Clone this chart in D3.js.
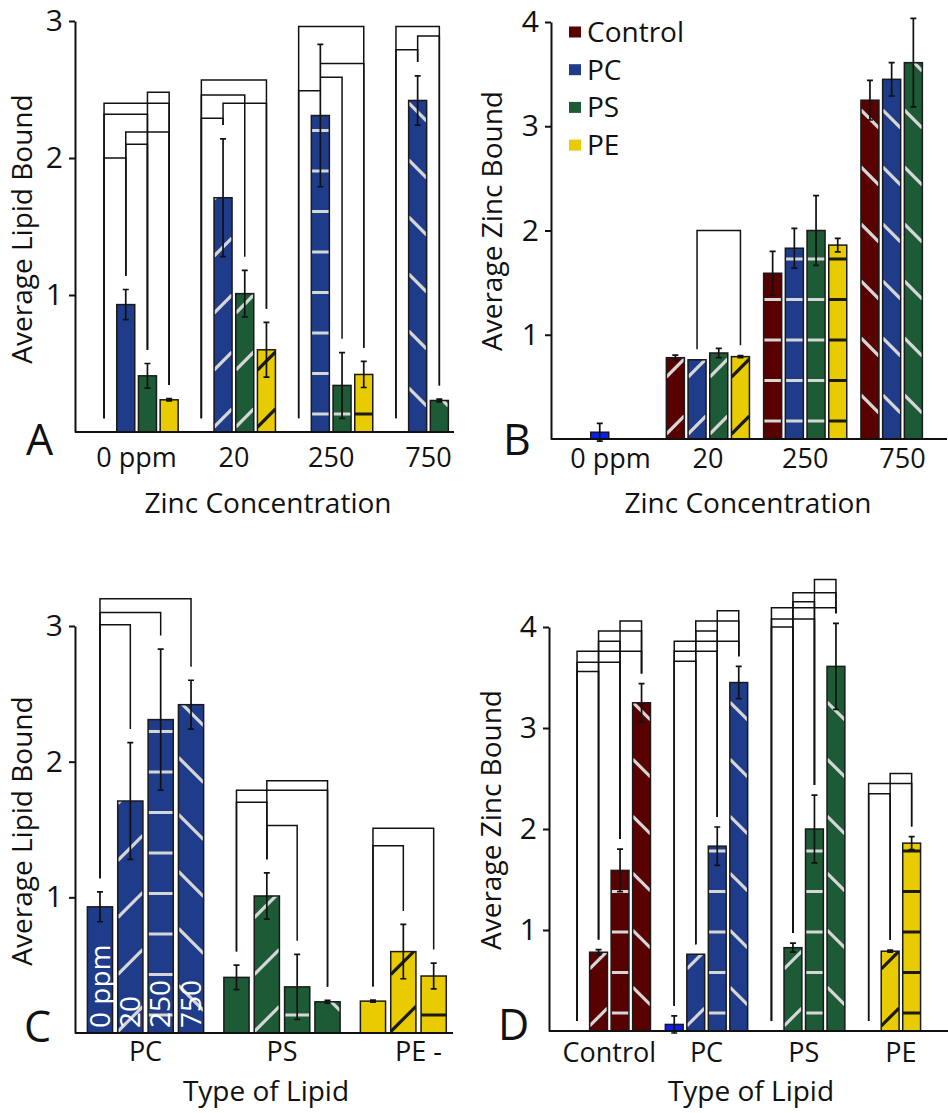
<html>
<head>
<meta charset="utf-8">
<script src="https://d3js.org/d3.v7.min.js"></script>
<style>
  body { margin: 0; background: #fff; }
  text { font-family: "Open Sans", sans-serif; fill: #111; }
</style>
</head>
<body>
<svg width="948" height="1113"></svg>
<script>
// ---- data ----
var zincLevels = ["0 ppm", "20", "250", "750"];
var lipidTypes = ["Control", "PC", "PS", "PE"];
var lipidColors = ["#590000", "#1e3c89", "#1d5b37", "#e8cb00"];
var hatchKinds = ["none", "rise", "flat", "fall"];   // one per zinc level
var lipidTickC = ["PC", "PS", "PE -"];

// average lipid bound (A, C), index = zinc level; null = not measured
var lipidControl = [0, 0, 0, 0];
var lipidControlErr = [0, 0, 0, 0];
var lipidPC = [0.93, 1.71, 2.31, 2.42];
var lipidPCErr = [0.11, 0.43, 0.52, 0.18];
var lipidPS = [0.41, 1.01, 0.34, 0.23];
var lipidPSErr = [0.09, 0.17, 0.24, 0.01];
var lipidPE = [0.235, 0.60, 0.42, null];
var lipidPEErr = [0.008, 0.20, 0.095, null];

// average zinc bound (B, D)
var zincControl = [0, 0.78, 1.59, 3.25];
var zincControlErr = [0, 0.025, 0.21, 0.19];
var zincPC = [0.065, 0.76, 1.83, 3.45];
var zincPCErr = [0.085, 0, 0.19, 0.16];
var zincPS = [0, 0.825, 2.0, 3.61];
var zincPSErr = [0, 0.045, 0.335, 0.425];
var zincPE = [0, 0.79, 1.86, 0];
var zincPEErr = [0, 0.01, 0.065, 0];

// significance brackets: [group, from slot, to slot, height]
var bracketsA = [
  ["0 ppm", "Control", "PE", 2.40], ["0 ppm", "Control", "PS", 2.32], ["0 ppm", "PS", "PE", 2.48],
  ["0 ppm", "PC", "PE", 2.19], ["0 ppm", "PC", "PS", 2.10], ["0 ppm", "Control", "PC", 2.0],
  ["20", "Control", "PE", 2.57], ["20", "Control", "PS", 2.46], ["20", "PC", "PE", 2.40], ["20", "Control", "PC", 2.29],
  ["250", "Control", "PE", 2.96], ["250", "PC", "PE", 2.69], ["250", "PC", "PS", 2.59], ["250", "Control", "PC", 2.49],
  ["750", "Control", "PS", 2.96], ["750", "PC", "PS", 2.89], ["750", "Control", "PC", 2.79]
];
var bracketsB = [["20", "PC", "PE", 2.0]];
var bracketsC = [
  ["PC", "0 ppm", "750", 3.20], ["PC", "0 ppm", "250", 3.10], ["PC", "0 ppm", "20", 3.01],
  ["PS", "20", "750", 1.86], ["PS", "0 ppm", "750", 1.79], ["PS", "0 ppm", "20", 1.70], ["PS", "20", "250", 1.53],
  ["PE", "0 ppm", "250", 1.51], ["PE", "0 ppm", "20", 1.38]
];
var bracketsD = [
  ["Control", "250", "750", 4.06], ["Control", "20", "750", 3.96], ["Control", "20", "250", 3.86],
  ["Control", "0 ppm", "750", 3.76], ["Control", "0 ppm", "250", 3.65], ["Control", "0 ppm", "20", 3.56],
  ["PC", "250", "750", 4.16], ["PC", "20", "750", 4.06], ["PC", "20", "250", 3.96],
  ["PC", "0 ppm", "750", 3.86], ["PC", "0 ppm", "250", 3.76], ["PC", "0 ppm", "20", 3.66],
  ["PS", "250", "750", 4.47], ["PS", "20", "750", 4.34], ["PS", "20", "250", 4.25],
  ["PS", "0 ppm", "750", 4.19], ["PS", "0 ppm", "250", 4.08], ["PS", "0 ppm", "20", 4.0],
  ["PE", "20", "250", 2.55], ["PE", "0 ppm", "250", 2.45], ["PE", "0 ppm", "20", 2.35]
];

var lipidMeans = [lipidControl, lipidPC, lipidPS, lipidPE];
var lipidErrs = [lipidControlErr, lipidPCErr, lipidPSErr, lipidPEErr];
var zincMeans = [zincControl, zincPC, zincPS, zincPE];
var zincErrs = [zincControlErr, zincPCErr, zincPSErr, zincPEErr];

var svg = d3.select("svg");
var clipCount = 0;

function hatch(kind, x, w, top, bottom) {
  var sp = kind == "flat" ? 40.5 : 57;
  var off = {flat: 18, rise: 14, fall: 35}[kind];
  var out = [];
  for (var yc = bottom - off; yc > top - w; yc -= sp) {
    if (kind == "flat") out.push([x, yc, x + w, yc]);
    else if (kind == "rise") out.push([x, yc + w / 2, x + w, yc - w / 2]);
    else out.push([x, yc - w / 2, x + w, yc + w / 2]);
  }
  return out;
}

function drawPanel(p) {
  var y = d3.scaleLinear().domain([0, p.yMax]).range([p.y0, p.yTop]);
  var n = p.groups.length, k = p.slots.length;
  var x0 = d3.scaleBand().domain(p.groups)
    .range([p.start, p.start + p.step * (n - 1) + p.slot * k])
    .paddingInner(1 - p.slot * k / p.step).paddingOuter(0);
  var x1 = d3.scaleBand().domain(p.slots).range([0, p.slot * k])
    .paddingInner(0.17).paddingOuter(0.085);
  var bw = x1.bandwidth();
  var g = svg.append("g");

  var cells = [];
  p.groups.forEach(function(gn) {
    p.slots.forEach(function(sn) {
      var c = p.cell(gn, sn);
      if (c && c.v != null) { c.g = gn; c.s = sn; cells.push(c); }
    });
  });
  function find(gn, sn) { return cells.find(function(c) { return c.g == gn && c.s == sn; }); }

  // bars
  cells.forEach(function(c) {
    var bx = x0(c.g) + x1(c.s), top = y(c.v), bot = y(0);
    var col = (p.zinc && c.li == 1 && c.zi == 0) ? "#0b1ef2" : lipidColors[c.li];
    g.append("rect").attr("x", bx).attr("y", top).attr("width", bw).attr("height", bot - top)
      .attr("fill", col);
    var kind = hatchKinds[c.zi];
    if (kind != "none" && c.v > 0) {
      var id = "clip" + (clipCount++);
      g.append("clipPath").attr("id", id).append("rect")
        .attr("x", bx).attr("y", top).attr("width", bw).attr("height", bot - top);
      g.append("g").attr("clip-path", "url(#" + id + ")")
        .selectAll("line").data(hatch(kind, bx, bw, top, bot)).enter().append("line")
        .attr("x1", function(d) { return d[0]; }).attr("y1", function(d) { return d[1]; })
        .attr("x2", function(d) { return d[2]; }).attr("y2", function(d) { return d[3]; })
        .attr("stroke", c.li == 3 ? "#1a1a1a" : "#d6d6d6").attr("stroke-width", 3.2);
    }
    g.append("rect").attr("x", bx).attr("y", top).attr("width", bw).attr("height", bot - top)
      .attr("fill", "none").attr("stroke", "#1a1a1a").attr("stroke-width", 1.5);
    if (p.barText && c.li == 1) {
      g.append("text").attr("transform", "translate(" + (bx + bw - 3) + "," + (bot - 5) + ") rotate(-90)")
        .attr("font-size", 28).style("fill", "#fff").text(zincLevels[c.zi]);
    }
  });

  // error bars
  cells.filter(function(c) { return c.e > 0; }).forEach(function(c) {
    var cx = x0(c.g) + x1(c.s) + bw / 2;
    var path = d3.path();
    path.moveTo(cx, y(c.v + c.e)); path.lineTo(cx, y(c.v - c.e));
    path.moveTo(cx - 3, y(c.v + c.e)); path.lineTo(cx + 3, y(c.v + c.e));
    path.moveTo(cx - 3, y(c.v - c.e)); path.lineTo(cx + 3, y(c.v - c.e));
    g.append("path").attr("d", path.toString()).attr("stroke", "#111").attr("stroke-width", 1.7).attr("fill", "none");
  });

  // brackets
  p.brackets.forEach(function(b) {
    var xa = x0(b[0]) + x1(b[1]) + bw / 2, xb = x0(b[0]) + x1(b[2]) + bw / 2;
    var ca = find(b[0], b[1]), cb = find(b[0], b[2]);
    var ta = ca ? ca.v + (ca.e || 0) : 0, tb = cb ? cb.v + (cb.e || 0) : 0;
    var yh = y(b[3]);
    var ya = Math.max(yh, y(ta + 0.1)), yb = Math.max(yh, y(tb + 0.1));
    g.append("path").attr("d", "M" + xa + "," + ya + "V" + yh + "H" + xb + "V" + yb)
      .attr("fill", "none").attr("stroke", "#111").attr("stroke-width", 1.5);
  });

  // axes
  g.append("g").attr("transform", "translate(" + p.x + ",0)")
    .call(d3.axisLeft(y).tickValues(p.ticks).tickSize(6).tickSizeOuter(0).tickPadding(6).tickFormat(d3.format("d")))
    .call(function(a) {
      a.attr("font-family", null).attr("font-size", null);
      a.selectAll("text").attr("font-size", 30);
      a.selectAll("line,path").attr("stroke", "#111").attr("stroke-width", 2);
    });
  g.append("line").attr("x1", p.x).attr("x2", p.xEnd).attr("y1", y(0)).attr("y2", y(0))
    .attr("stroke", "#111").attr("stroke-width", 2);

  g.selectAll(".xl").data(p.groups).enter().append("text")
    .attr("x", function(d) { return x0(d) + x0.bandwidth() / 2; })
    .attr("y", p.labelY).attr("text-anchor", "middle").attr("font-size", 27)
    .text(function(d, i) { return p.tickText ? p.tickText[i] : d; });

  g.append("text").attr("x", p.xt[0]).attr("y", p.xt[1]).attr("text-anchor", "middle")
    .attr("font-size", 28).text(p.xTitle);
  g.append("text").attr("transform", "translate(" + p.yt[0] + "," + p.yt[1] + ") rotate(-90)")
    .attr("text-anchor", "middle").attr("font-size", 28).text(p.yTitle);
  g.append("text").attr("x", p.letter[0]).attr("y", p.letter[1]).attr("font-size", 43).text(p.name);
}

function lipidCell(li, zi) { return {v: lipidMeans[li][zi], e: lipidErrs[li][zi], li: li, zi: zi}; }
function zincCell(li, zi) { return {v: zincMeans[li][zi], e: zincErrs[li][zi], li: li, zi: zi}; }

drawPanel({
  name: "A", yMax: 3, y0: 432, yTop: 21, ticks: [1, 2, 3], x: 75, xEnd: 454,
  start: 93.2, step: 97.3, slot: 21.7, groups: zincLevels, slots: lipidTypes,
  cell: function(g, s) { return lipidCell(lipidTypes.indexOf(s), zincLevels.indexOf(g)); },
  brackets: bracketsA, labelY: 467, xTitle: "Zinc Concentration", xt: [268, 513],
  yTitle: "Average Lipid Bound", yt: [32, 229], letter: [26, 455]
});
drawPanel({
  name: "B", zinc: true, yMax: 4, y0: 439, yTop: 22, ticks: [1, 2, 3, 4], x: 551, xEnd: 947,
  start: 567.2, step: 97.3, slot: 21.7, groups: zincLevels, slots: lipidTypes,
  cell: function(g, s) { return zincCell(lipidTypes.indexOf(s), zincLevels.indexOf(g)); },
  brackets: bracketsB, labelY: 468, xTitle: "Zinc Concentration", xt: [748, 513],
  yTitle: "Average Zinc Bound", yt: [502, 221], letter: [503, 455]
});
drawPanel({
  name: "C", yMax: 3, y0: 1033, yTop: 626, ticks: [1, 2, 3], x: 75, xEnd: 453,
  start: 84.8, step: 136.5, slot: 30.35, groups: lipidTypes.slice(1), slots: zincLevels,
  cell: function(g, s) { return lipidCell(lipidTypes.indexOf(g), zincLevels.indexOf(s)); },
  brackets: bracketsC, labelY: 1061, tickText: lipidTickC, barText: true,
  xTitle: "Type of Lipid", xt: [266, 1101],
  yTitle: "Average Lipid Bound", yt: [32, 831], letter: [24, 1042]
});
drawPanel({
  name: "D", zinc: true, yMax: 4, y0: 1031, yTop: 627, ticks: [1, 2, 3, 4], x: 549, xEnd: 948,
  start: 566.3, step: 97.2, slot: 21.5, groups: lipidTypes, slots: zincLevels,
  cell: function(g, s) { return zincCell(lipidTypes.indexOf(g), zincLevels.indexOf(s)); },
  brackets: bracketsD, labelY: 1062, xTitle: "Type of Lipid", xt: [751, 1101],
  yTitle: "Average Zinc Bound", yt: [501, 820], letter: [498, 1040]
});

// legend (panel B)
var leg = svg.append("g").selectAll("g").data(lipidTypes).enter().append("g")
  .attr("transform", function(d, i) { return "translate(569," + (32 + i * 37.7) + ")"; });
leg.append("rect").attr("x", 0).attr("y", -5.5).attr("width", 12).attr("height", 11)
  .attr("fill", function(d, i) { return lipidColors[i]; });
leg.append("text").attr("x", 18).attr("y", 10).attr("font-size", 28).text(function(d) { return d; });
</script>
</body>
</html>
